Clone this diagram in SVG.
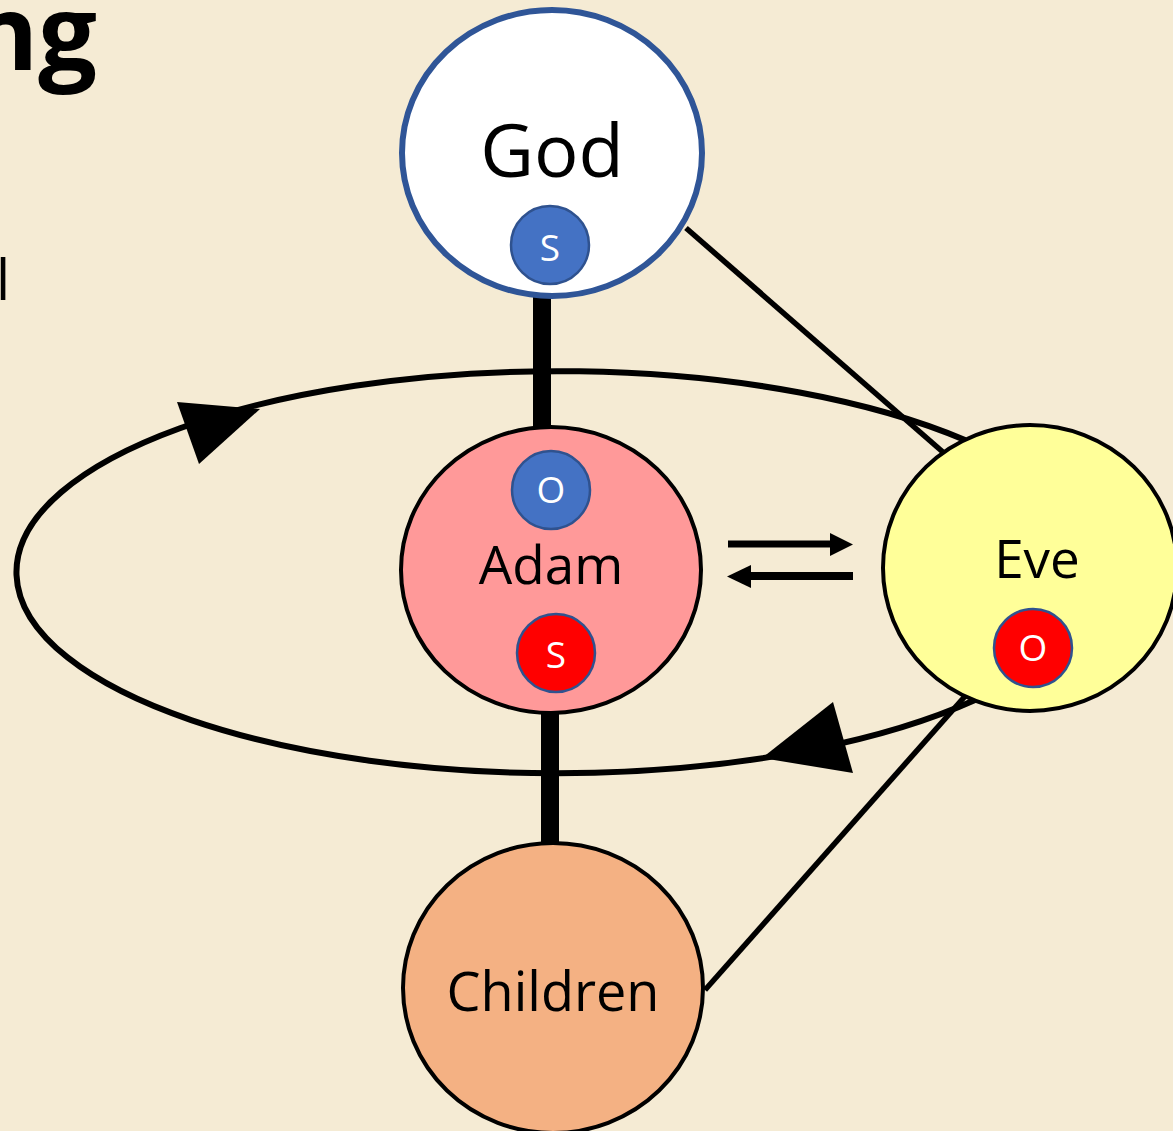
<svg xmlns="http://www.w3.org/2000/svg" width="1173" height="1131" viewBox="0 0 1173 1131">
<defs>
<style>
.lbl{font-family:"Open Sans","Noto Sans",sans-serif;fill:#000;text-anchor:middle}
.sm{font-family:"Open Sans","Noto Sans",sans-serif;fill:#fff;text-anchor:middle;font-size:37px}
.dot-b{fill:#4472C4;stroke:#2F528F;stroke-width:2.5}
.dot-r{fill:#FF0000;stroke:#2F528F;stroke-width:2.5}
.thin{stroke:#000;stroke-width:5.5;fill:none}
.loop{stroke:#000;stroke-width:6;fill:none}
.thick{stroke:#000;stroke-width:18;fill:none}
</style>
</defs>
<rect width="1173" height="1131" fill="#F5EBD4"/>
<text x="97" y="70" font-family="Open Sans, Noto Sans, sans-serif" font-weight="bold" font-size="104" text-anchor="end">ng</text>
<text x="-4" y="300" font-family="Open Sans, Noto Sans, sans-serif" font-size="56">l</text>

<g id="connectors">
<path class="loop" d="M965,440 A541,201 0 1 0 975,700"/>
<polygon points="177,402 260,409 199,464" fill="#000"/>
<polygon points="833,702 853,773 762,758" fill="#000"/>
<line class="thick" x1="542" y1="292" x2="542" y2="428"/>
<line class="thick" x1="550" y1="712" x2="550" y2="846"/>
<line class="thin" x1="686" y1="228" x2="944" y2="453"/>
<line class="thin" x1="705" y1="990" x2="967" y2="694"/>
<line x1="728" y1="544" x2="832" y2="544" stroke="#000" stroke-width="7"/>
<polygon points="830,533 853,544.5 830,556" fill="#000"/>
<line x1="749" y1="576" x2="853" y2="576" stroke="#000" stroke-width="8"/>
<polygon points="751,565 727,576.5 751,588" fill="#000"/>
</g>

<g id="god">
<ellipse cx="552" cy="153" rx="150" ry="143" fill="#fff" stroke="#2F5597" stroke-width="6"/>
<text class="lbl" x="552" y="177" font-size="74">God</text>
<circle class="dot-b" cx="550" cy="245" r="39"/>
<text class="sm" x="550" y="261">S</text>
</g>

<g id="adam">
<ellipse cx="551" cy="570" rx="150" ry="143" fill="#FF9999" stroke="#000" stroke-width="4"/>
<circle class="dot-b" cx="551" cy="490" r="39"/>
<text class="sm" x="551" y="503">O</text>
<text class="lbl" x="551" y="584" font-size="53">Adam</text>
<circle class="dot-r" cx="556" cy="653" r="39"/>
<text class="sm" x="556" y="668">S</text>
</g>

<g id="eve">
<ellipse cx="1030" cy="568" rx="147" ry="143" fill="#FFFF99" stroke="#000" stroke-width="4"/>
<text class="lbl" x="1037" y="578" font-size="53">Eve</text>
<circle class="dot-r" cx="1033" cy="648" r="39"/>
<text class="sm" x="1033" y="661">O</text>
</g>

<g id="children">
<ellipse cx="553" cy="988" rx="150" ry="145" fill="#F4B183" stroke="#000" stroke-width="4"/>
<text class="lbl" x="553" y="1011" font-size="54">Children</text>
</g>
</svg>
